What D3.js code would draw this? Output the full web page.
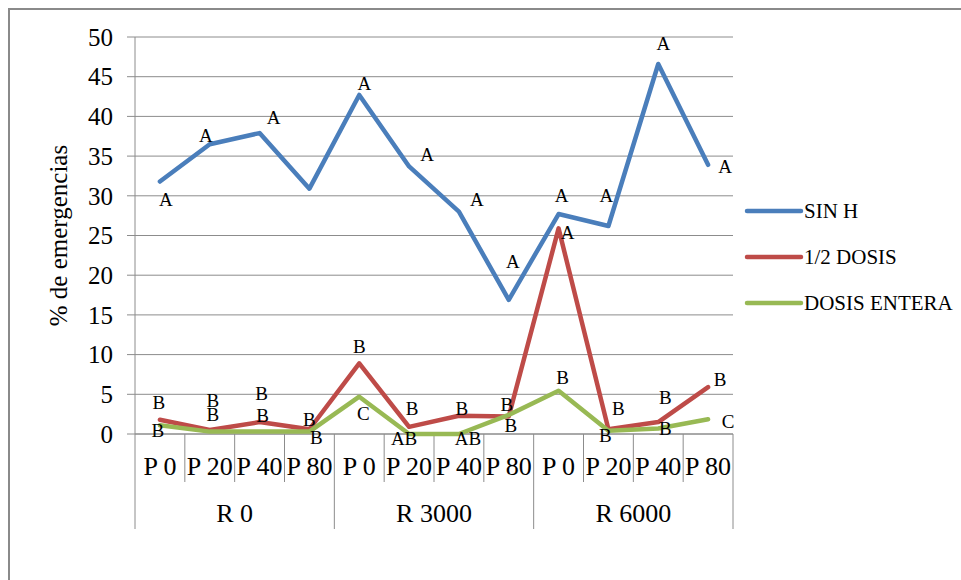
<!DOCTYPE html>
<html>
<head>
<meta charset="utf-8">
<script src="https://cdn.jsdelivr.net/npm/d3@7"></script>
<style>
  body { margin: 0; background: #fff; }
  text { font-family: "Liberation Serif", "Times New Roman", serif; fill: #000; }
</style>
</head>
<body>
<div class="content"></div>
<script>
// Data
var groups = ["R 0", "R 3000", "R 6000"];
var doses = ["P 0", "P 20", "P 40", "P 80"];
var seriesNames = ["SIN H", "1/2 DOSIS", "DOSIS ENTERA"];
var sinH = [31.8, 36.5, 37.9, 30.9, 42.7, 33.7, 28.0, 16.9, 27.7, 26.2, 46.6, 33.9];
var mediaDosis = [1.8, 0.5, 1.5, 0.6, 8.9, 0.9, 2.3, 2.2, 25.9, 0.6, 1.5, 5.9];
var dosisEntera = [1.1, 0.3, 0.3, 0.3, 4.7, 0.0, 0.0, 2.4, 5.45, 0.4, 0.7, 1.85];
var sinHLabels = ["A", "A", "A", "", "A", "A", "A", "A", "A", "A", "A", "A"];
var mediaLabels = ["B", "B", "B", "B", "B", "B", "B", "B", "A", "B", "B", "B"];
var enteraLabels = ["B", "B", "B", "B", "C", "AB", "AB", "B", "B", "B", "B", "C"];
var yTicks = [0, 5, 10, 15, 20, 25, 30, 35, 40, 45, 50];

// Layout: label nudges (dx, dy) from each point, as placed in the original
var sinHNudge = [[6,18],[-4,-9],[14,-16],[0,0],[5,-12],[18,-12],[18,-12],[4,-38],[3,-19],[-2,-31],[5,-21],[17,2]];
var mediaNudge = [[-1,-17],[3,-30],[2,-29],[0,-10],[0,-17],[3,-19],[3,-7],[-2,-12],[9,4],[10,-21],[7,-25],[12,-8]];
var enteraNudge = [[-2,5],[3,-17],[3,-16],[7,6],[4,17],[-5,4],[9,4],[2,10],[4,-13],[-3,5],[7,0],[20,2]];

var colors = ["#4a7ebb", "#be4b48", "#98b954"];

var svgWidth = 961, svgHeight = 580;
var plotLeft = 135, plotRight = 733, plotTop = 37, plotBottom = 434;

// Build the category keys (group + dose)
var cats = [];
groups.forEach(function(g) { doses.forEach(function(d) { cats.push(g + "|" + d); }); });

var svg = d3.select(".content").append("svg")
    .attr("width", svgWidth)
    .attr("height", svgHeight);

// Outer chart border (only top and left visible)
svg.append("path")
    .attr("d", "M9,580V9H961")
    .attr("fill", "none")
    .attr("stroke", "#8a8a8a")
    .attr("stroke-width", 2);

var x = d3.scaleBand().domain(cats).range([plotLeft, plotRight]);
var y = d3.scaleLinear().domain([0, 50]).range([plotBottom, plotTop]);

// Gridlines and y ticks
svg.append("g")
    .selectAll("line")
    .data(yTicks)
    .join("line")
    .attr("x1", plotLeft - 8)
    .attr("x2", plotRight)
    .attr("y1", function(d) { return y(d); })
    .attr("y2", function(d) { return y(d); })
    .attr("stroke", "#8c8c8c")
    .attr("stroke-width", 1);

svg.append("g")
    .selectAll("text")
    .data(yTicks)
    .join("text")
    .attr("x", plotLeft - 22)
    .attr("y", function(d) { return y(d); })
    .attr("dy", "0.35em")
    .attr("text-anchor", "end")
    .style("font-size", "25px")
    .text(function(d) { return d; });

// Y axis line
svg.append("line")
    .attr("x1", plotLeft).attr("x2", plotLeft)
    .attr("y1", plotTop).attr("y2", plotBottom)
    .attr("stroke", "#8c8c8c");

// Y axis title
svg.append("text")
    .attr("transform", "translate(58," + ((plotTop + plotBottom) / 2) + ") rotate(-90)")
    .attr("dy", "0.35em")
    .attr("text-anchor", "middle")
    .style("font-size", "25px")
    .text("% de emergencias");

// X axis: inner separators, group separators, labels
svg.append("g")
    .selectAll("line")
    .data(cats.slice(1))
    .join("line")
    .attr("x1", function(d) { return x(d); })
    .attr("x2", function(d) { return x(d); })
    .attr("y1", plotBottom)
    .attr("y2", function(d, i) { return (i + 1) % doses.length === 0 ? 529 : 482; })
    .attr("stroke", "#8c8c8c");

svg.append("line")
    .attr("x1", plotLeft).attr("x2", plotLeft)
    .attr("y1", plotBottom).attr("y2", 529)
    .attr("stroke", "#8c8c8c");
svg.append("line")
    .attr("x1", plotRight).attr("x2", plotRight)
    .attr("y1", plotBottom).attr("y2", 529)
    .attr("stroke", "#8c8c8c");

svg.append("g")
    .selectAll("text")
    .data(cats)
    .join("text")
    .attr("x", function(d) { return x(d) + x.bandwidth() / 2; })
    .attr("y", 475)
    .attr("text-anchor", "middle")
    .style("font-size", "26px")
    .text(function(d) { return d.split("|")[1]; });

svg.append("g")
    .selectAll("text")
    .data(groups)
    .join("text")
    .attr("x", function(g) { return (x(g + "|" + doses[0]) + x(g + "|" + doses[doses.length - 1]) + x.bandwidth()) / 2; })
    .attr("y", 522)
    .attr("text-anchor", "middle")
    .style("font-size", "26px")
    .text(function(g) { return g; });

// X baseline
svg.append("line")
    .attr("x1", plotLeft).attr("x2", plotRight)
    .attr("y1", plotBottom).attr("y2", plotBottom)
    .attr("stroke", "#8c8c8c");

// Lines
var series = [
    {values: sinH, labels: sinHLabels, nudge: sinHNudge},
    {values: mediaDosis, labels: mediaLabels, nudge: mediaNudge},
    {values: dosisEntera, labels: enteraLabels, nudge: enteraNudge}
];

var line = d3.line()
    .x(function(d, i) { return x(cats[i]) + x.bandwidth() / 2; })
    .y(function(d) { return y(d); });

series.forEach(function(s, k) {
    svg.append("path")
        .datum(s.values)
        .attr("d", line)
        .attr("fill", "none")
        .attr("stroke", colors[k])
        .attr("stroke-width", 4.5)
        .attr("stroke-linejoin", "round")
        .attr("stroke-linecap", "round");
});

// Data labels
series.forEach(function(s) {
    svg.append("g")
        .selectAll("text")
        .data(s.values)
        .join("text")
        .attr("x", function(d, i) { return x(cats[i]) + x.bandwidth() / 2 + s.nudge[i][0]; })
        .attr("y", function(d, i) { return y(d) + s.nudge[i][1]; })
        .attr("dy", "0.35em")
        .attr("text-anchor", "middle")
        .style("font-size", "19px")
        .text(function(d, i) { return s.labels[i]; });
});

// Legend
var legend = svg.append("g")
    .selectAll("g")
    .data(seriesNames)
    .join("g")
    .attr("transform", function(d, i) { return "translate(747," + (211 + i * 46) + ")"; });

legend.append("line")
    .attr("x1", 0).attr("x2", 54)
    .attr("stroke", function(d, i) { return colors[i]; })
    .attr("stroke-width", 4.5)
    .attr("stroke-linecap", "round");

legend.append("text")
    .attr("x", 57)
    .attr("dy", "0.35em")
    .style("font-size", "21px")
    .text(function(d) { return d; });
</script>
</body>
</html>
